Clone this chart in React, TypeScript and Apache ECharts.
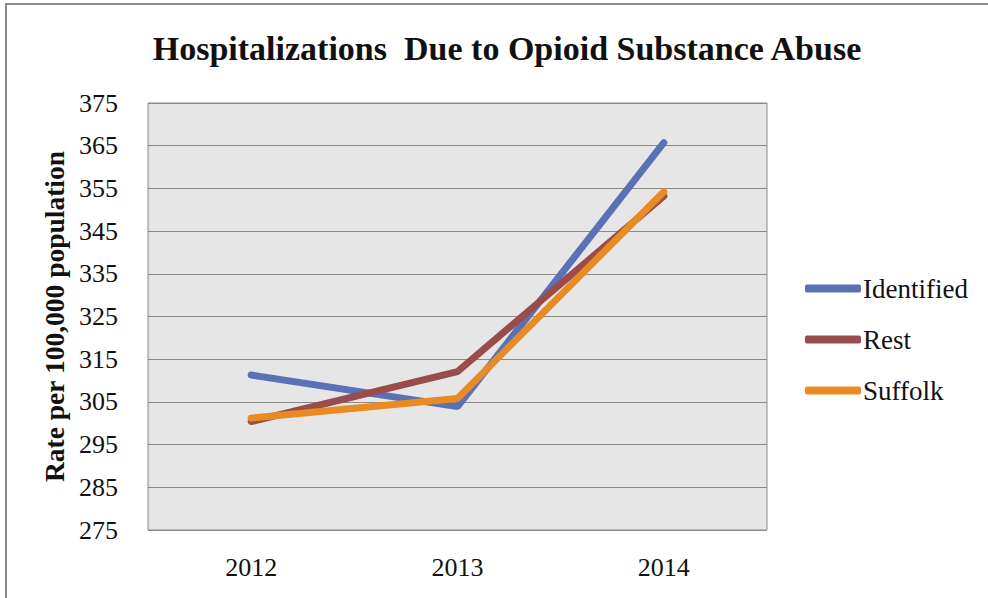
import React, { useEffect, useRef } from "react";
import * as echarts from "echarts";

const categories = ["2012", "2013", "2014"];
const identified = [311.3, 303.9, 365.7];
const rest = [300.4, 312.1, 353.2];
const suffolk = [301.2, 305.8, 354.2];
const seriesNames = ["Identified", "Rest", "Suffolk"];
const colors = ["#5b71b6", "#9a4b4b", "#e98a22"];

export default function App() {
  const ref = useRef<HTMLDivElement>(null);
  useEffect(() => {
    document.body.style.margin = "0";
    const chart = echarts.init(ref.current!, null, { renderer: "svg" });
    const font = "Liberation Serif";
    const values = [identified, rest, suffolk];
    chart.setOption({
      animation: false,
      backgroundColor: "#ffffff",
      title: {
        text: "Hospitalizations  Due to Opioid Substance Abuse",
        left: 502,
        textAlign: "center",
        top: 26,
        textStyle: { fontFamily: font, fontSize: 34, fontWeight: "bold", color: "#111" },
      },
      graphic: [
        {
          type: "rect",
          shape: { x: 6, y: 4, width: 1100, height: 800 },
          style: { fill: "none", stroke: "#8c8c8c", lineWidth: 2 },
          silent: true,
        },
      ],
      legend: {
        orient: "vertical",
        left: 800,
        top: 270,
        itemWidth: 56,
        itemHeight: 8,
        itemGap: 24,
        icon: "roundRect",
        formatter: "{a|{name}}",
        textStyle: {
          fontFamily: "Tinos",
          fontWeight: 400,
          fontSize: 27,
          lineHeight: 27,
          color: "#111",
          padding: [0, 0, 0, -3],
          rich: { a: { fontFamily: "Tinos", fontWeight: 400, fontSize: 27, lineHeight: 27, color: "#111" } },
        },
        data: seriesNames,
      },
      grid: {
        left: 148,
        right: 221,
        top: 103,
        bottom: 68,
        show: true,
        backgroundColor: "#e6e6e6",
        borderColor: "#8a8a8a",
        borderWidth: 1,
      },
      xAxis: {
        type: "category",
        data: categories,
        boundaryGap: true,
        axisLine: { show: false },
        axisTick: { show: false },
        axisLabel: {
          margin: 24,
          formatter: "{a|{value}}",
          rich: { a: { fontFamily: font, fontSize: 26, color: "#111" } },
        },
      },
      yAxis: {
        type: "value",
        min: 275,
        max: 375,
        interval: 10,
        name: "Rate per 100,000 population",
        nameLocation: "middle",
        nameGap: 80,
        nameTextStyle: { fontFamily: font, fontSize: 27.5, fontWeight: "bold", color: "#111" },
        axisLine: { show: false },
        axisTick: { show: false },
        axisLabel: {
          margin: 30,
          fontFamily: "Tinos",
          fontWeight: 400,
          fontSize: 26,
          color: "#111",
          formatter: (v: number) => "{a|" + v + "}",
          rich: { a: { fontFamily: "Tinos", fontWeight: 400, fontSize: 26, color: "#111" } },
        },
        splitLine: { lineStyle: { color: "#8a8a8a", width: 1 } },
      },
      series: seriesNames.map((n, i) => ({
        name: n,
        type: "line",
        data: values[i],
        showSymbol: false,
        symbol: "none",
        color: colors[i],
        lineStyle: { width: 7, color: colors[i], cap: "round" },
        itemStyle: { color: colors[i] },
      })),
    });
    return () => chart.dispose();
  }, []);
  return <div ref={ref} style={{ width: 988, height: 598 }} />;
}
